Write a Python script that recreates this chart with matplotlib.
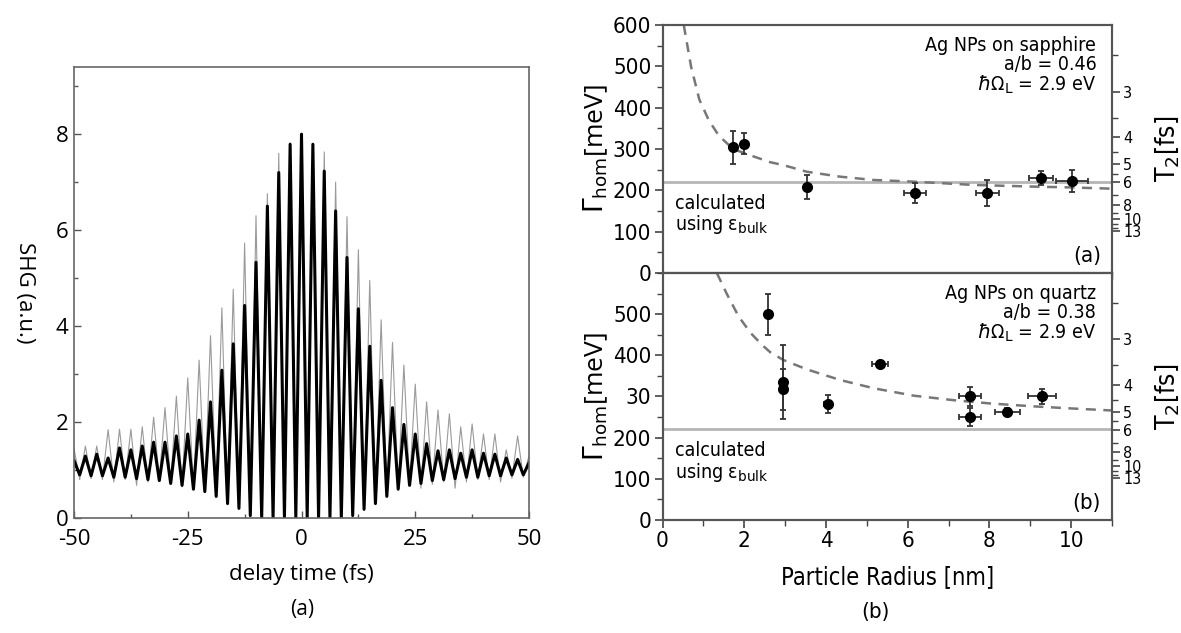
import numpy as np
import matplotlib
matplotlib.use("Agg")
import matplotlib.pyplot as plt
from matplotlib import font_manager
from matplotlib.ticker import MultipleLocator, FixedLocator, FixedFormatter

# ---------------- left: SHG interferometric autocorrelation ----------------
# fringe maxima sit every 2.5 fs, minima halfway between them
peak_delay = np.arange(-50, 50.01, 2.5)
trough_delay = peak_delay[:-1] + 1.25

grey_peaks = [1.45, 1.5, 1.5, 1.84, 1.85, 1.85, 1.9, 2.1, 2.3, 2.54, 2.92, 3.29, 3.8, 4.38,
              4.77, 5.73, 6.3, 6.76, 7.6, 7.82, 8.0, 7.8, 7.63, 7.0, 6.28, 5.59, 4.95, 4.13,
              3.66, 3.19, 2.79, 2.42, 2.25, 2.17, 1.9, 1.96, 1.75, 1.75, 1.42, 1.71, 1.3]
grey_troughs = [0.8, 0.82, 0.8, 0.75, 0.8, 0.68, 0.75, 0.8, 0.72, 0.65, 0.6, 0.55, 0.45, 0.3,
                0.22, 0.05, 0.0, 0.0, 0.0, 0.0, 0.0, 0.0, 0.0, 0.0, 0.05, 0.17, 0.3, 0.46,
                0.6, 0.7, 0.62, 0.7, 0.75, 0.62, 0.75, 0.8, 0.8, 0.75, 0.83, 0.85]
black_peaks = [1.2, 1.29, 1.33, 1.25, 1.46, 1.42, 1.5, 1.58, 1.58, 1.71, 1.75, 2.04, 2.42, 3.08,
               3.63, 4.43, 5.33, 6.5, 7.2, 7.79, 8.0, 7.79, 7.23, 6.4, 5.43, 4.36, 3.58, 2.87,
               2.3, 1.95, 1.75, 1.55, 1.4, 1.42, 1.35, 1.42, 1.35, 1.33, 1.25, 1.22, 1.15]
black_troughs = [0.9, 0.88, 0.88, 0.85, 0.85, 0.82, 0.8, 0.78, 0.72, 0.68, 0.6, 0.55, 0.45, 0.3,
                 0.2, 0.05, 0.0, 0.0, 0.0, 0.0, 0.0, 0.0, 0.0, 0.0, 0.05, 0.18, 0.3, 0.45,
                 0.6, 0.68, 0.72, 0.78, 0.8, 0.82, 0.85, 0.85, 0.88, 0.88, 0.9, 0.9]

# ---------------- right: homogeneous linewidth vs particle radius ----------------
sap_radius = [1.73, 1.99, 3.54, 6.19, 7.95, 9.27, 10.02]
sap_gamma = [304, 313, 208, 194, 194, 230, 223]
sap_gamma_err = [40, 26, 30, 24, 31, 17, 27]
sap_radius_err = [0, 0, 0, 0.27, 0.29, 0.29, 0.39]
sap_fit_radius = [0.52, 0.7, 0.9, 1.13, 1.38, 1.73, 2.14, 2.64, 2.96, 3.53, 4.35, 5.17, 6.15,
                  7.62, 9.09, 10.0, 11.0]
sap_fit_gamma = [600, 499, 420, 370, 332, 300, 285, 268, 261, 245, 233, 225, 221, 213, 209,
                 207, 204]

qtz_radius = [2.59, 2.95, 2.95, 4.04, 5.33, 7.52, 7.52, 8.44, 9.29]
qtz_gamma = [500, 336, 318, 282, 379, 300, 250, 262, 300]
qtz_gamma_err = [50, 90, 50, 22, 6, 23, 21, 10, 18]
qtz_radius_err = [0, 0, 0, 0.1, 0.2, 0.27, 0.27, 0.3, 0.34]
qtz_fit_radius = [1.33, 1.57, 1.86, 2.15, 2.44, 2.63, 2.95, 3.53, 4.35, 5.17, 6.15, 7.13, 8.03,
                  9.09, 10.0, 11.0]
qtz_fit_gamma = [600, 550, 495, 455, 425, 408, 389, 366, 340, 320, 302, 291, 283, 276, 271, 266]

bulk_gamma = 220
t2_major = [3, 4, 5, 6, 8, 10, 13]
t2_minor = [2.5, 3.5, 4.5, 5.5, 7, 9, 11, 12]
hbar2 = 1316.4  # 2*hbar in meV*fs, T2 = 2hbar / Gamma

# pick a condensed face for the right-hand panels if one is installed
narrow, stretch = 'Liberation Sans', 'normal'
for f in font_manager.fontManager.ttflist:
    if f.style == 'normal' and (f.stretch in ('condensed', 'semi-condensed')
                                or 'Narrow' in f.name or 'Condensed' in f.name):
        narrow, stretch = f.name, f.stretch
        break
nfont = dict(family=narrow, stretch=stretch)

plt.rcParams['font.family'] = ['Open Sans', 'DejaVu Sans']
plt.rcParams['axes.unicode_minus'] = False
plt.rcParams['mathtext.fontset'] = 'custom'
plt.rcParams['mathtext.rm'] = narrow
plt.rcParams['mathtext.it'] = narrow + ':italic'

W, H = 1181, 633
fig = plt.figure(figsize=(W / 100, H / 100), dpi=100)

# ---- left panel
axL = fig.add_axes([74 / W, 1 - 518 / H, (529 - 74) / W, (518 - 67) / H])
delay = np.empty(len(peak_delay) + len(trough_delay))
delay[0::2] = peak_delay
delay[1::2] = trough_delay
grey = np.empty_like(delay)
grey[0::2] = grey_peaks
grey[1::2] = grey_troughs
black = np.empty_like(delay)
black[0::2] = black_peaks
black[1::2] = black_troughs
axL.plot(delay, grey, color='#9a9a9a', lw=0.8)
axL.plot(delay, black, color='black', lw=2.2)
axL.set_xlim(-50, 50)
axL.set_ylim(0, 9.4)
axL.xaxis.set_major_locator(FixedLocator([-50, -25, 0, 25, 50]))
axL.xaxis.set_minor_locator(MultipleLocator(12.5))
axL.yaxis.set_major_locator(FixedLocator([0, 2, 4, 6, 8]))
axL.yaxis.set_minor_locator(MultipleLocator(1))
axL.tick_params(which='both', direction='in', color='#555555', labelsize=16, pad=4)
axL.tick_params(axis='x', pad=8)
axL.tick_params(which='major', length=5, width=1)
axL.tick_params(which='minor', length=3, width=1)
for s in axL.spines.values():
    s.set_color('#666666')
    s.set_linewidth(1.2)
axL.set_xlabel('delay time (fs)', fontsize=16, labelpad=10)
axL.set_ylabel('SHG (a.u.)', fontsize=16, rotation=-90, labelpad=30, va='bottom')
fig.text(302 / W, 1 - 610 / H, '(a)', ha='center', va='center', fontsize=15)

# ---- right panels
axT = fig.add_axes([662.5 / W, 1 - 273 / H, 449.5 / W, 248 / H])
axB = fig.add_axes([662.5 / W, 1 - 520 / H, 449.5 / W, 247 / H], sharex=axT)

panels = [
    (axT, sap_radius, sap_gamma, sap_gamma_err, sap_radius_err, sap_fit_radius, sap_fit_gamma,
     'Ag NPs on sapphire\na/b = 0.46', '(a)'),
    (axB, qtz_radius, qtz_gamma, qtz_gamma_err, qtz_radius_err, qtz_fit_radius, qtz_fit_gamma,
     'Ag NPs on quartz\na/b = 0.38', '(b)'),
]
for ax, r, g, gerr, rerr, fr, fg, label, tag in panels:
    ax.axhline(bulk_gamma, color='#b5b5b5', lw=2, zorder=1)
    ax.plot(fr, fg, color='#777777', lw=1.8, ls=(0, (4, 3)), zorder=2)
    ax.errorbar(r, g, yerr=gerr, xerr=rerr, fmt='o', color='black', ms=7, ecolor='#333333',
                elinewidth=1.3, capsize=2.5, capthick=1.3, zorder=3)
    ax.set_xlim(0, 11)
    ax.set_ylim(0, 600)
    ax.xaxis.set_major_locator(MultipleLocator(2))
    ax.xaxis.set_minor_locator(MultipleLocator(1))
    ax.yaxis.set_minor_locator(MultipleLocator(50))
    ax.tick_params(which='both', direction='out', color='#444444', labelsize=16, pad=2)
    ax.tick_params(which='major', length=6, width=1.2)
    ax.tick_params(which='minor', length=4, width=1)
    for s in ax.spines.values():
        s.set_color('#555555')
        s.set_linewidth(1.5)
    ax.set_ylabel(r'$\Gamma_{\rm hom}$[meV]', fontsize=19, labelpad=2)
    ax.text(0.965, 0.955, label + '\n' + r'$\hbar$Ω$_{\rm L}$ = 2.9 eV', transform=ax.transAxes,
            ha='right', va='top', fontsize=14, linespacing=1.0, **nfont)
    ax.text(0.028, 0.32, 'calculated\nusing ε$_{\\rm bulk}$', transform=ax.transAxes,
            ha='left', va='top', fontsize=14, linespacing=1.05, **nfont)
    ax.text(0.975, 0.07, tag, transform=ax.transAxes, ha='right', va='center', fontsize=16,
            **nfont)

    tw = ax.twinx()
    tw.set_ylim(0, 600)
    tw.yaxis.set_major_locator(FixedLocator([hbar2 / t for t in t2_major]))
    tw.yaxis.set_major_formatter(FixedFormatter([str(t) for t in t2_major]))
    tw.yaxis.set_minor_locator(FixedLocator([hbar2 / t for t in t2_minor]))
    tw.tick_params(which='both', direction='out', color='#444444', labelsize=11.5, pad=2)
    tw.tick_params(which='major', length=6, width=1.2)
    tw.tick_params(which='minor', length=4, width=1)
    for lab in tw.get_yticklabels():
        lab.set_fontfamily(narrow)
        lab.set_fontstretch(stretch)
    for s in tw.spines.values():
        s.set_color('#555555')
        s.set_linewidth(1.5)
    tw.set_ylabel('T$_2$[fs]', fontsize=19, labelpad=8, **nfont)

axT.set_yticks([0, 100, 200, 300, 400, 500, 600])
axT.tick_params(axis='x', labelbottom=False)
axB.set_yticks([0, 100, 200, 300, 400, 500], ['0', '100', '200', '30', '400', '500'])
for ax in (axT, axB):
    for lab in ax.get_xticklabels() + ax.get_yticklabels():
        lab.set_fontfamily(narrow)
        lab.set_fontstretch(stretch)
axB.set_xlabel('Particle Radius [nm]', fontsize=17, labelpad=10, **nfont)
fig.text(875 / W, 1 - 612 / H, '(b)', ha='center', va='center', fontsize=16, **nfont)

fig.savefig('out.png', dpi=100)
